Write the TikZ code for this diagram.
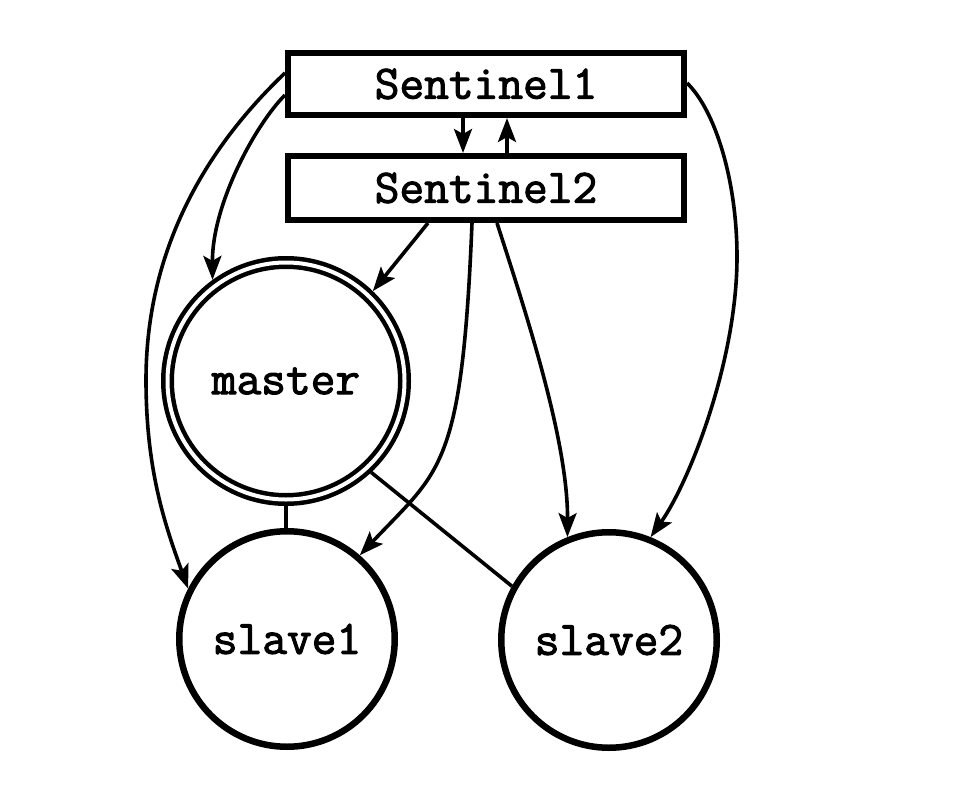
\documentclass[tikz,border=0pt]{standalone}
\usepackage{fontspec}
\newfontfamily\lblfont[FakeBold=2.2]{Latin Modern Mono}
\usetikzlibrary{arrows.meta}
\begin{document}
\begin{tikzpicture}[x=1pt,y=-1pt,
  lbl/.style={font=\fontsize{48}{54}\selectfont\lblfont},
  sentbox/.style={lbl,draw,line width=6pt,minimum width=396pt,inner sep=0pt},
  srvcirc/.style={lbl,circle,draw,line width=6.5pt,minimum size=215.5pt,inner sep=0pt},
  mastercirc/.style={lbl,circle,draw,line width=4.5pt,double,double distance=4pt,minimum size=237pt,inner sep=0pt,outer sep=6.5pt},
  conn/.style={line width=3.6pt},
  arr/.style={conn,-{Stealth[length=24pt,width=18pt,inset=5pt]}}
]
\useasboundingbox[fill=white] (0,0) rectangle (974,792);
\node[sentbox,minimum height=62pt] (s1) at (486,84) {Sentinel1};
\node[sentbox,minimum height=64pt] (s2) at (486,188) {Sentinel2};
\node[mastercirc] (m) at (286,381) {master};
\node[srvcirc] (sl1) at (287,639) {slave1};
\node[srvcirc] (sl2) at (609,640) {slave2};
\coordinate (xa) at (463,0);
\coordinate (xb) at (507,0);
\coordinate (la) at (0,73);
\coordinate (lb) at (0,95);
\coordinate (ra) at (0,83);
\coordinate (ba) at (428,0);
\coordinate (bb) at (472,0);
\coordinate (bc) at (497,0);
% between sentinels
\draw[arr] (xa |- s1.south) -- (xa |- s2.north);
\draw[arr] (xb |- s2.north) -- (xb |- s1.south);
% Sentinel1 connectors
\draw[arr] (s1.west |- lb) .. controls (255,125) and (212,205) .. (m.126);
\draw[arr] (s1.west |- la) .. controls (225,130) and (146,230) .. (146,380)
  .. controls (146,470) and (165,525) .. (sl1.153);
\draw[arr] (s1.east |- ra) .. controls (715,110) and (737,180) .. (737,257)
  .. controls (737,360) and (690,481) .. (sl2.68);
% Sentinel2 connectors
\draw[arr] (ba |- s2.south) -- (m.46);
\draw[arr] (bb |- s2.south) .. controls (462,470) and (440,470) .. (sl1.49);
\draw[arr] (bc |- s2.south) .. controls (525,310) and (568,440) .. (sl2.112);
% replication links
\draw[conn] (m.south) -- (m.south |- sl1.north);
\draw[conn] (m.-47) -- (sl2.151);
\end{tikzpicture}
\end{document}
